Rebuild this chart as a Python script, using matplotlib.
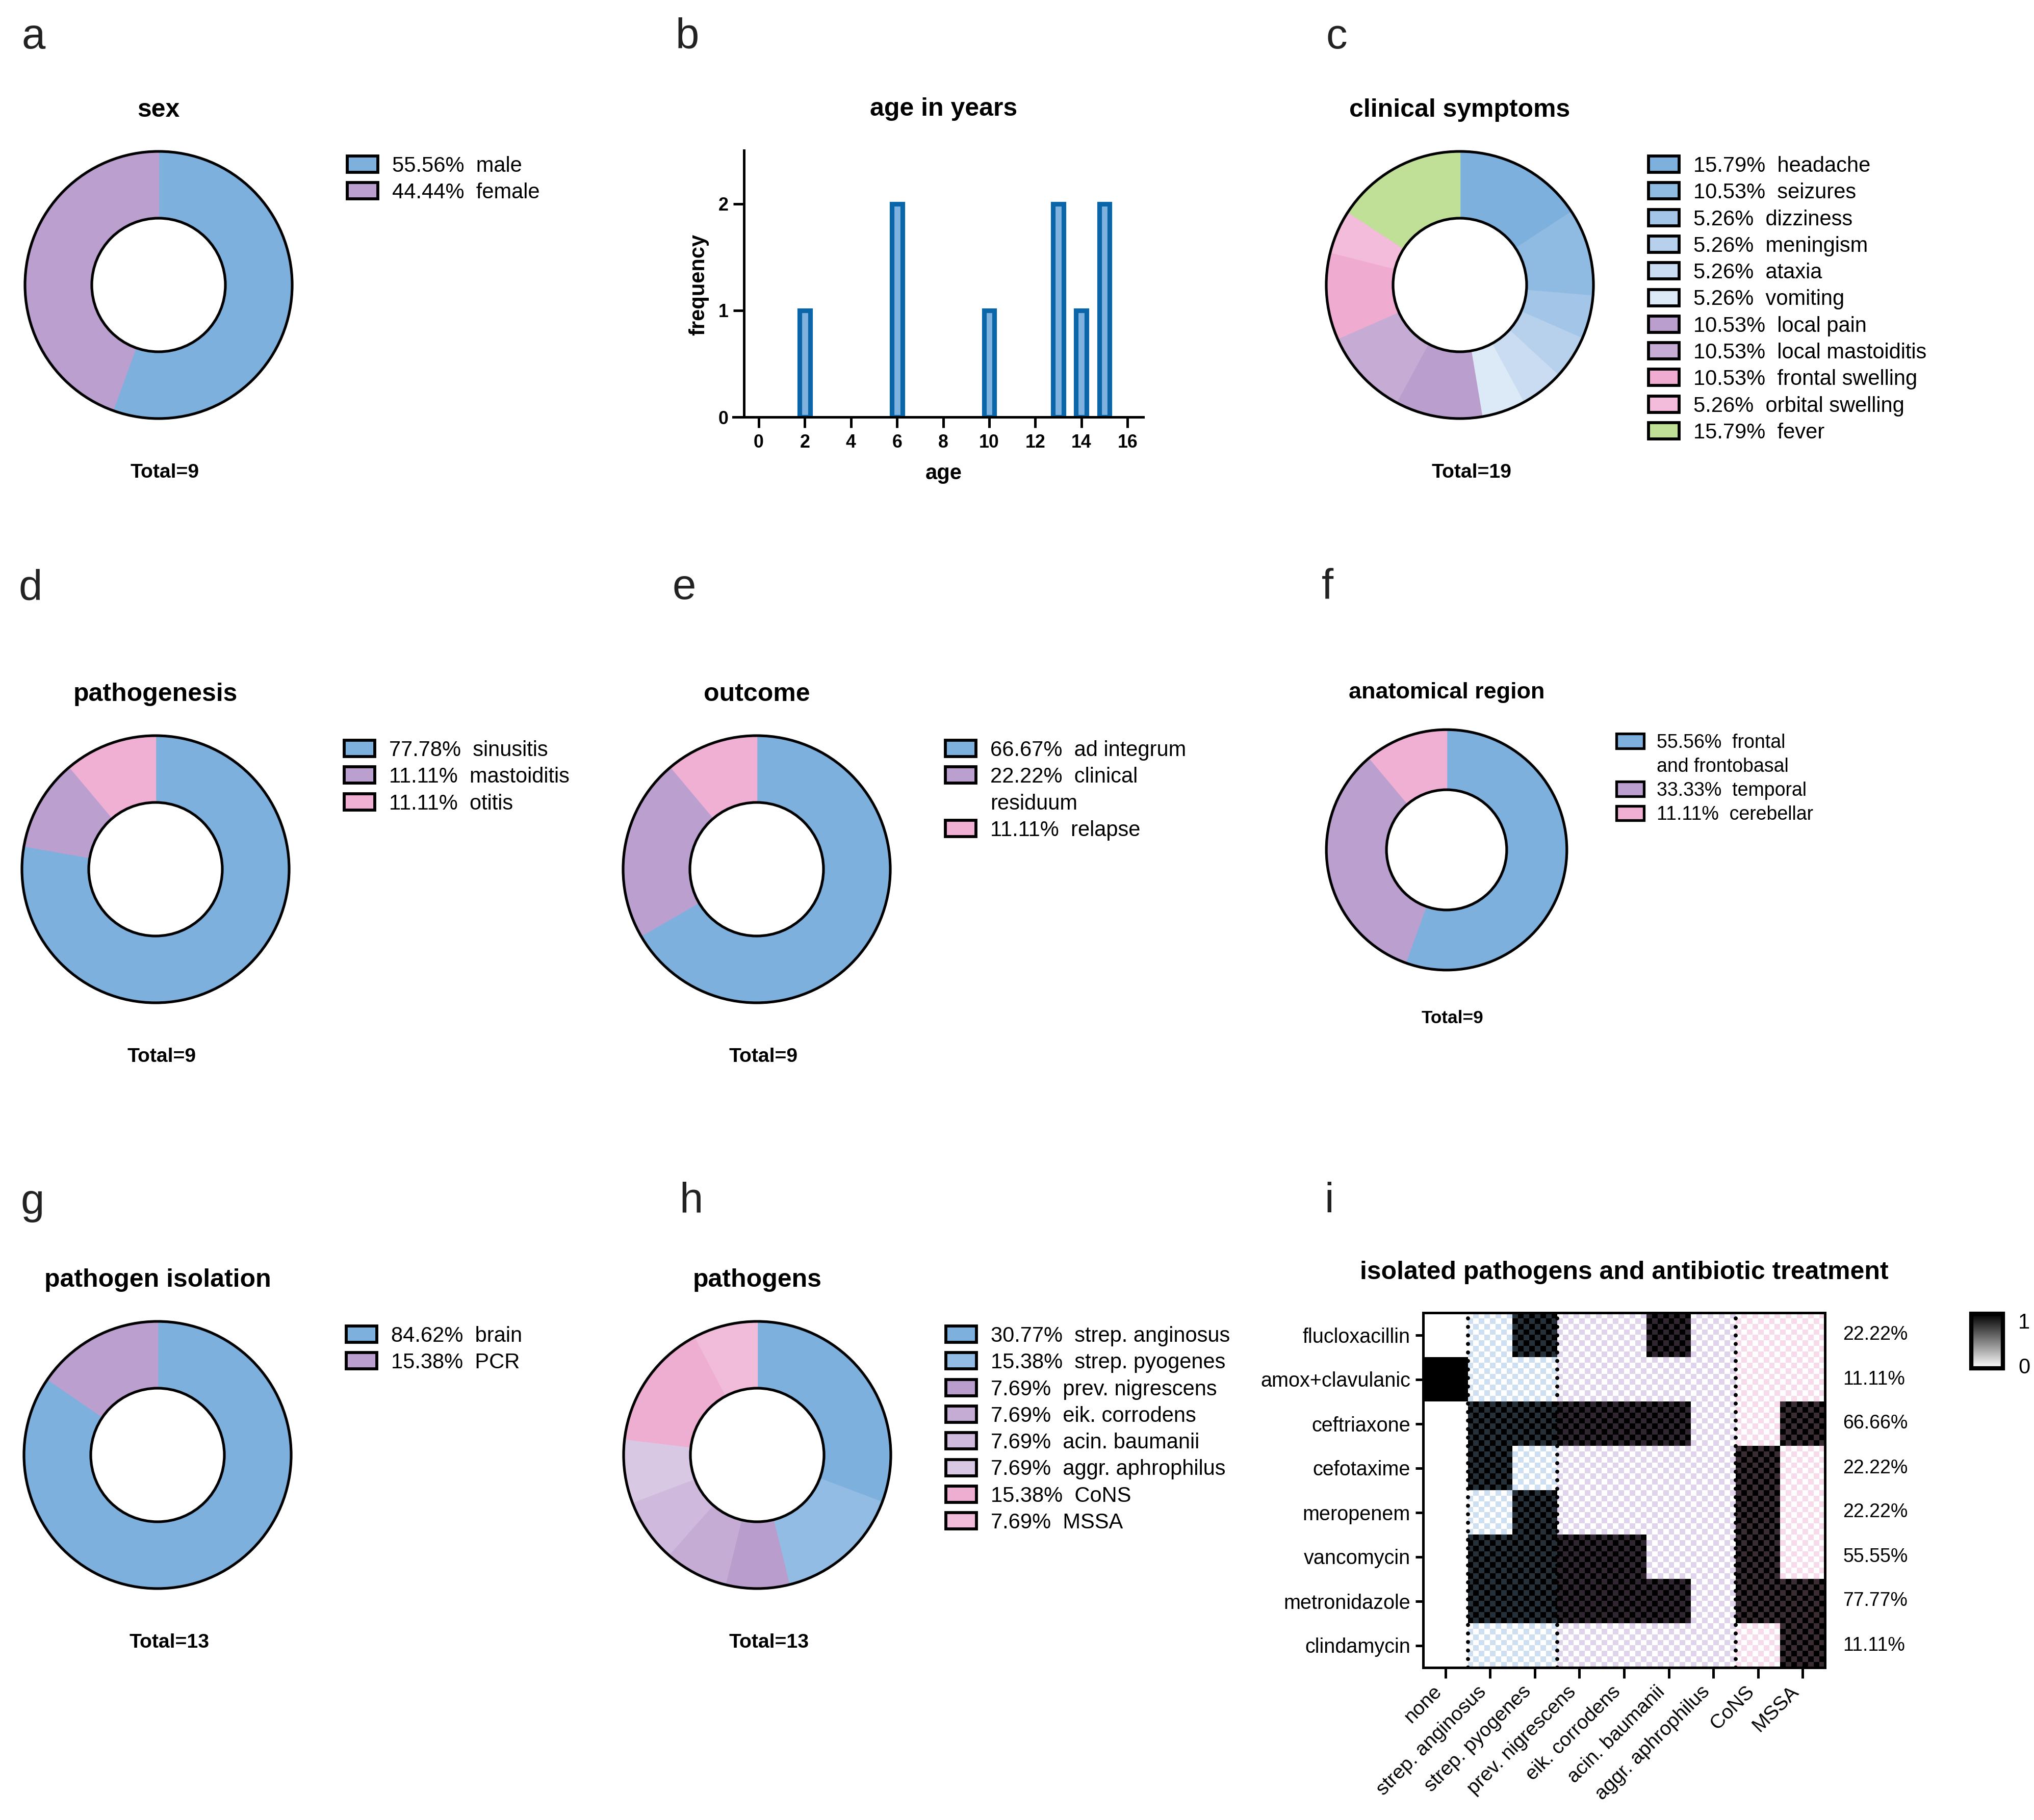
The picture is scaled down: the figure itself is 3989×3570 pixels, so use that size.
import numpy as np
import matplotlib
matplotlib.use('Agg')
import matplotlib.pyplot as plt
from matplotlib.patches import Circle, Rectangle
from matplotlib.colors import to_rgb
import matplotlib.transforms as mtransforms
from matplotlib.cm import ScalarMappable
from matplotlib.colors import Normalize

plt.rcParams['font.family'] = ['Liberation Sans', 'DejaVu Sans']

# ---------------- data ----------------
sex_labels = ['male', 'female']
sex_pct = [55.56, 44.44]
sex_total = 9

ages = [2, 6, 10, 13, 14, 15]
age_freq = [1, 2, 1, 2, 1, 2]

symptom_labels = ['headache', 'seizures', 'dizziness', 'meningism', 'ataxia', 'vomiting',
                  'local pain', 'local mastoiditis', 'frontal swelling', 'orbital swelling', 'fever']
symptom_pct = [15.79, 10.53, 5.26, 5.26, 5.26, 5.26, 10.53, 10.53, 10.53, 5.26, 15.79]
symptom_total = 19

pathogenesis_labels = ['sinusitis', 'mastoiditis', 'otitis']
pathogenesis_pct = [77.78, 11.11, 11.11]
pathogenesis_total = 9

outcome_labels = ['ad integrum', 'clinical\nresiduum', 'relapse']
outcome_pct = [66.67, 22.22, 11.11]
outcome_total = 9

region_labels = ['frontal\nand frontobasal', 'temporal', 'cerebellar']
region_pct = [55.56, 33.33, 11.11]
region_total = 9

isolation_labels = ['brain', 'PCR']
isolation_pct = [84.62, 15.38]
isolation_total = 13

pathogen_labels = ['strep. anginosus', 'strep. pyogenes', 'prev. nigrescens', 'eik. corrodens',
                   'acin. baumanii', 'aggr. aphrophilus', 'CoNS', 'MSSA']
pathogen_pct = [30.77, 15.38, 7.69, 7.69, 7.69, 7.69, 15.38, 7.69]
pathogen_total = 13

antibiotics = ['flucloxacillin', 'amox+clavulanic', 'ceftriaxone', 'cefotaxime',
               'meropenem', 'vancomycin', 'metronidazole', 'clindamycin']
heat_cols = ['none', 'strep. anginosus', 'strep. pyogenes', 'prev. nigrescens', 'eik. corrodens',
             'acin. baumanii', 'aggr. aphrophilus', 'CoNS', 'MSSA']
heat_matrix = np.array([
    [0, 0, 1, 0, 0, 1, 0, 0, 0],
    [1, 0, 0, 0, 0, 0, 0, 0, 0],
    [0, 1, 1, 1, 1, 1, 0, 0, 1],
    [0, 1, 0, 0, 0, 0, 0, 1, 0],
    [0, 0, 1, 0, 0, 0, 0, 1, 0],
    [0, 1, 1, 1, 1, 0, 0, 1, 0],
    [0, 1, 1, 1, 1, 1, 0, 1, 1],
    [0, 0, 0, 0, 0, 0, 0, 0, 1],
])
antibiotic_pct = ['22.22%', '11.11%', '66.66%', '22.22%', '22.22%', '55.55%', '77.77%', '11.11%']
col_group = [0, 1, 1, 2, 2, 2, 2, 3, 3]
group_bounds = [0.5, 2.5, 6.5]

# ---------------- colours ----------------
BLUE = '#7eb0de'
PURPLE = '#bb9fcf'
PINK = '#f0b0d3'
sex_colors = [BLUE, PURPLE]
symptom_colors = ['#7eb0de', '#8fbbe3', '#a3c5e8', '#b7d0ec', '#c9dcf1', '#dce9f6',
                  '#ba9ecd', '#c6abd4', '#efacd0', '#f3bcda', '#bfe096']
three_colors = [BLUE, PURPLE, PINK]
isolation_colors = [BLUE, PURPLE]
pathogen_colors = ['#7eb0de', '#92bce3', '#b99dcd', '#c5acd5', '#cfb9dd', '#d9c8e4',
                   '#eeaed2', '#f1bcd9']
palette = {
    0: {0: ('#ffffff', '#ffffff'), 1: ('#000000', '#000000')},
    1: {0: ('#cfdff2', '#ffffff'), 1: ('#000000', '#263038')},
    2: {0: ('#e0d4ec', '#ffffff'), 1: ('#000000', '#30262f')},
    3: {0: ('#f7dbea', '#ffffff'), 1: ('#000000', '#3a2c33')},
}

# ---------------- figure ----------------
W, H = 3989, 3570
DPI = 300
fig = plt.figure(figsize=(W / DPI, H / DPI), dpi=DPI)


def fx(x):
    return x / W


def fy(y):
    return 1 - y / H


def T(x, y, s, **kw):
    return fig.text(fx(x), fy(y), s, **kw)


def donut(cx, cy, R, pcts, colors):
    pad = 1.03
    ax = fig.add_axes([fx(cx - R * pad), fy(cy + R * pad), 2 * R * pad / W, 2 * R * pad / H])
    wedges, _ = ax.pie(pcts, colors=colors, startangle=90, counterclock=False, radius=1.0,
                       wedgeprops=dict(width=0.5, linewidth=0.6))
    for w, c in zip(wedges, colors):
        w.set_edgecolor(c)
    ax.add_patch(Circle((0, 0), 1.0, fill=False, lw=1.25, ec='black', zorder=5))
    ax.add_patch(Circle((0, 0), 0.5, fill=False, lw=1.25, ec='black', zorder=5))
    ax.set_xlim(-pad, pad)
    ax.set_ylim(-pad, pad)
    ax.set_aspect('equal')
    ax.axis('off')
    return ax


def legend(cx, cy, labels, pcts, colors, s=1.0, fs=10):
    bx = cx + 370 * s
    y = cy - 237 * s
    dy = 52.3 * s
    bw, bh = 60 * s, 32 * s
    tx = bx + 88 * s
    em = fs / 72 * DPI
    for lab, p, col in zip(labels, pcts, colors):
        lines = lab.split('\n')
        fig.patches.append(Rectangle((fx(bx), fy(y + bh / 2)), bw / W, bh / H,
                                     transform=fig.transFigure, fc=col, ec='black',
                                     lw=1.4 * s, figure=fig))
        T(tx, y + 0.358 * em, f'{p:.2f}%  {lines[0]}', fontsize=fs, ha='left', va='baseline')
        y += dy
        for extra in lines[1:]:
            T(tx, y + 0.358 * em, extra, fontsize=fs, ha='left', va='baseline')
            y += dy


def donut_panel(cx, cy, title, labels, pcts, colors, total, s=1.0):
    donut(cx, cy, 262 * s, pcts, colors)
    legend(cx, cy, labels, pcts, colors, s=s, fs=10 * s)
    T(cx, cy - 330 * s, title, fontsize=12 * s, fontweight='bold', ha='center', va='baseline')
    T(cx - 55 * s, cy + 378 * s, f'Total={total}', fontsize=9.4 * s, fontweight='bold',
      ha='left', va='baseline')


# panel letters
for letter, x, y in [('a', 42, 95), ('b', 1325, 95), ('c', 2600, 95),
                     ('d', 37, 1177), ('e', 1319, 1175), ('f', 2592, 1175),
                     ('g', 40, 2381), ('h', 1332, 2379), ('i', 2597, 2379)]:
    T(x, y, letter, fontsize=20, color='#222222', ha='left', va='baseline')

# donuts
donut_panel(311, 559, 'sex', sex_labels, sex_pct, sex_colors, sex_total)
donut_panel(2863, 559, 'clinical symptoms', symptom_labels, symptom_pct, symptom_colors, symptom_total)
donut_panel(305, 1705, 'pathogenesis', pathogenesis_labels, pathogenesis_pct, three_colors, pathogenesis_total)
donut_panel(1484, 1705, 'outcome', outcome_labels, outcome_pct, three_colors, outcome_total)
donut_panel(2837, 1667, 'anatomical region', region_labels, region_pct, three_colors, region_total, s=0.9)
donut_panel(309, 2854, 'pathogen isolation', isolation_labels, isolation_pct, isolation_colors, isolation_total)
donut_panel(1485, 2854, 'pathogens', pathogen_labels, pathogen_pct, pathogen_colors, pathogen_total)

# ---------------- panel b: age histogram ----------------
axb = fig.add_axes([fx(1438), fy(818), (2242 - 1438) / W, (818 - 295) / H])
axb.bar(ages, age_freq, width=0.46, color='#7fb2de', edgecolor='#0a66a8', linewidth=2.2, zorder=2)
axb.set_xlim(-1.106, 16.68)
axb.set_ylim(0, 2.5)
axb.spines['left'].set_position(('data', -0.64))
axb.spines['top'].set_visible(False)
axb.spines['right'].set_visible(False)
for sp in ['left', 'bottom']:
    axb.spines[sp].set_linewidth(1.2)
    axb.spines[sp].set_zorder(3)
axb.set_xticks(range(0, 17, 2))
axb.set_yticks([0, 1, 2])
axb.tick_params(axis='both', length=5, width=1.2, labelsize=8.6)
axb.tick_params(axis='x', pad=3.0)
axb.tick_params(axis='y', pad=2.4)
for lbl in axb.get_xticklabels() + axb.get_yticklabels():
    lbl.set_fontweight('bold')
axb.patch.set_visible(False)
T(1851, 227, 'age in years', fontsize=12, fontweight='bold', ha='center', va='baseline')
T(1851, 929, 'age', fontsize=10, fontweight='bold', ha='center', va='center')
T(1370, 558, 'frequency', fontsize=10, fontweight='bold', ha='center', va='center', rotation=90)

# ---------------- panel i: heatmap ----------------
axh = fig.add_axes([fx(2791), fy(3271), (3579 - 2791) / W, (3271 - 2575) / H])
n = 8
rows, cols = heat_matrix.shape
colA = np.zeros((rows, cols, 3))
colB = np.zeros((rows, cols, 3))
for r in range(rows):
    for c in range(cols):
        a, b = palette[col_group[c]][int(heat_matrix[r, c])]
        colA[r, c] = to_rgb(a)
        colB[r, c] = to_rgb(b)
bigA = np.repeat(np.repeat(colA, n, axis=0), n, axis=1)
bigB = np.repeat(np.repeat(colB, n, axis=0), n, axis=1)
iy, ix = np.indices((rows * n, cols * n))
parity = ((iy + ix) % 2 == 0)[..., None]
img = np.where(parity, bigB, bigA)
axh.imshow(img, extent=(-0.5, cols - 0.5, rows - 0.5, -0.5), interpolation='nearest',
           aspect='auto', zorder=1)
for xb in group_bounds:
    axh.axvline(xb, color='black', lw=1.9, linestyle=(0, (0.01, 2.1)),
                dash_capstyle='round', zorder=3)
axh.set_xlim(-0.5, cols - 0.5)
axh.set_ylim(rows - 0.5, -0.5)
axh.set_yticks(range(rows))
axh.set_yticklabels(antibiotics, fontsize=9.5)
axh.set_xticks(range(cols))
axh.set_xticklabels(heat_cols, fontsize=9.4, rotation=45, ha='right', va='top')
axh.tick_params(axis='y', length=3.6, width=1.2, pad=2.4)
axh.tick_params(axis='x', length=5, width=1.2, pad=2)
for sp in axh.spines.values():
    sp.set_linewidth(1.2)
    sp.set_zorder(4)
blend = mtransforms.blended_transform_factory(axh.transAxes, axh.transData)
for r, p in enumerate(antibiotic_pct):
    axh.text(1.045, r, p, transform=blend, ha='left', va='center', fontsize=9)
T(3185, 2509, 'isolated pathogens and antibiotic treatment', fontsize=12, fontweight='bold',
  ha='center', va='baseline')

cax = fig.add_axes([fx(3866), fy(2684), (3928 - 3866) / W, (2684 - 2577) / H])
cb = fig.colorbar(ScalarMappable(norm=Normalize(0, 1), cmap='gray_r'), cax=cax)
cb.set_ticks([])
cb.outline.set_linewidth(2.0)
T(3958, 2575, '1', fontsize=10, ha='left', va='top')
T(3958, 2694, '0', fontsize=10, ha='left', va='baseline')

fig.savefig('out.png', dpi=DPI)
